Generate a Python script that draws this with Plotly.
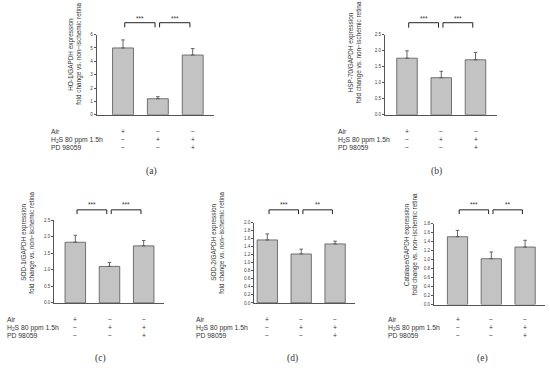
import plotly.graph_objects as go

# ---------------- data ----------------
groups = [0, 1, 2]
conditions = ["Air", "H<sub>2</sub>S 80 ppm 1.5h", "PD 98059"]
condition_signs = [["+", "−", "−"],
                   ["−", "+", "+"],
                   ["−", "−", "+"]]

ho1_mean = [5.0, 1.2, 4.47]
ho1_err = [0.6, 0.15, 0.48]
hsp70_mean = [1.77, 1.16, 1.72]
hsp70_err = [0.23, 0.20, 0.23]
sod1_mean = [1.83, 1.10, 1.72]
sod1_err = [0.21, 0.12, 0.16]
sod2_mean = [1.57, 1.22, 1.47]
sod2_err = [0.15, 0.12, 0.07]
cat_mean = [1.51, 1.02, 1.28]
cat_err = [0.14, 0.15, 0.15]

significance = [["***", "***"], ["***", "***"], ["***", "***"], ["***", "**"], ["***", "**"]]
ytitle_line1 = ["HO-1/GAPDH expression", "HSP-70/GAPDH expression", "SOD-1/GAPDH expression",
                "SOD-2/GAPDH expression", "Catalase/GAPDH expression"]
ytitle_line2 = "fold change vs. non−ischemic retina"
panel_labels = ["(a)", "(b)", "(c)", "(d)", "(e)"]
y_max = [6, 2.5, 2.5, 2.0, 1.8]
y_dtick = [1, 0.5, 0.5, 0.2, 0.2]
y_fmt = ["d", ".1f", ".1f", ".1f", ".1f"]

means = [ho1_mean, hsp70_mean, sod1_mean, sod2_mean, cat_mean]
errs = [ho1_err, hsp70_err, sod1_err, sod2_err, cat_err]

# ---------------- layout (pixels) ----------------
W, H = 550, 370
SANS = "Liberation Sans, Arial, sans-serif"
SERIF = "Liberation Serif, Times New Roman, serif"
AX = "#555555"

geom = [
    dict(ax=96.7, c0=123.0, sp=34.85, xr=214, y0=114.3, yt=33.0,
         tx=(71.5, 79.5), tyc=53, rlx=49.3, rows=(131.7, 139.5, 147.2), lab=(151.7, 172),
         bt=21, bl=25.7, st=16.5),
    dict(ax=385.0, c0=407.0, sp=34.25, xr=497, y0=114.3, yt=33.3,
         tx=(351, 359), tyc=51, rlx=336, rows=(131.7, 139.5, 147.2), lab=(436, 172),
         bt=21, bl=26, st=16.5),
    dict(ax=54.3, c0=75.3, sp=34.2, xr=164, y0=305.0, yt=221.0,
         tx=(24, 32), tyc=244, rlx=5.3, rows=(322, 330, 338), lab=(100, 361),
         bt=210.7, bl=215, st=205.5),
    dict(ax=254.3, c0=267.3, sp=33.9, xr=355, y0=305.0, yt=223.7,
         tx=(214, 222), tyc=244, rlx=194, rows=(322, 330, 338), lab=(292, 361),
         bt=210.7, bl=215, st=205.5),
    dict(ax=434.0, c0=457.5, sp=33.8, xr=545, y0=306.7, yt=224.7,
         tx=(406.5, 414.5), tyc=246, rlx=385.6, rows=(322, 330, 338), lab=(482, 361),
         bt=210.7, bl=215, st=205.5),
]


def px(x):
    return x / W


def py(y):
    return 1 - y / H


fig = go.Figure()
layout = dict(width=W, height=H, margin=dict(l=0, r=0, t=0, b=0),
              paper_bgcolor="white", plot_bgcolor="white", showlegend=False,
              font=dict(family=SANS, color="#222222"))
annotations = []
shapes = []

for i, g in enumerate(geom):
    n = "" if i == 0 else str(i + 1)
    xa, ya = "x" + n, "y" + n
    fig.add_trace(go.Bar(
        x=groups, y=means[i], width=0.6, xaxis=xa, yaxis=ya,
        marker=dict(color="#c3c3c3", line=dict(color=AX, width=0.8)),
        error_y=dict(type="data", symmetric=False, array=errs[i], arrayminus=[0, 0, 0],
                     color=AX, thickness=0.9, width=1.8),
        hoverinfo="skip"))
    left = -(g["c0"] - g["ax"]) / g["sp"]
    right = (g["xr"] - g["c0"]) / g["sp"]
    layout["xaxis" + n] = dict(domain=[px(g["ax"]), px(g["xr"])], range=[left, right],
                               anchor=ya, showline=True, linecolor=AX, linewidth=1,
                               showticklabels=False, ticks="", showgrid=False, zeroline=False,
                               fixedrange=True)
    layout["yaxis" + n] = dict(domain=[py(g["y0"]), py(g["yt"])], range=[0, y_max[i]],
                               anchor=xa, showline=True, linecolor=AX, linewidth=1,
                               ticks="outside", ticklen=2, tickwidth=0.8, tickcolor=AX,
                               dtick=y_dtick[i], tick0=0, tickformat=y_fmt[i],
                               tickfont=dict(size=4.6, color="#444444", family=SANS),
                               showgrid=False, zeroline=False, fixedrange=True)
    for k, t in enumerate([ytitle_line1[i], ytitle_line2]):
        annotations.append(dict(text=t, x=px(g["tx"][k]), y=py(g["tyc"]), xref="paper", yref="paper",
                                textangle=-90, showarrow=False, xanchor="center", yanchor="middle",
                                font=dict(size=6.4, family=SANS, color="#333333")))
    for r, lab in enumerate(conditions):
        annotations.append(dict(text=lab, x=px(g["rlx"]), y=py(g["rows"][r]), xref="paper", yref="paper",
                                showarrow=False, xanchor="left", yanchor="middle",
                                font=dict(size=6.8, family=SANS, color="#333333")))
        for c in groups:
            annotations.append(dict(text=condition_signs[r][c], x=c, y=py(g["rows"][r]), xref=xa,
                                    yref="paper", showarrow=False, xanchor="center", yanchor="middle",
                                    font=dict(size=6.8, family=SANS, color="#333333")))
    annotations.append(dict(text=panel_labels[i], x=px(g["lab"][0]), y=py(g["lab"][1]), xref="paper",
                            yref="paper", showarrow=False, xanchor="center", yanchor="middle",
                            font=dict(size=9.5, family=SERIF, color="#333333")))
    for b, (s0, s1) in enumerate([(0, 1), (1, 2)]):
        xa0, xa1 = s0 + 0.05, s1 - 0.08
        shapes.append(dict(type="path", xref=xa, yref="paper",
                           path=f"M {xa0} {py(g['bl'])} L {xa0} {py(g['bt'])} L {xa1} {py(g['bt'])} L {xa1} {py(g['bl'])}",
                           line=dict(color="#222222", width=1)))
        annotations.append(dict(text=significance[i][b], x=(xa0 + xa1) / 2, y=py(g["st"]), xref=xa,
                                yref="paper", showarrow=False, xanchor="center", yanchor="middle",
                                font=dict(size=6.5, family=SANS, color="#333333")))

layout["annotations"] = annotations
layout["shapes"] = shapes
fig.update_layout(**layout)
fig.write_html("out.html", config={"displayModeBar": False},
               post_script="document.body.style.margin='0';document.body.style.overflow='hidden';")
